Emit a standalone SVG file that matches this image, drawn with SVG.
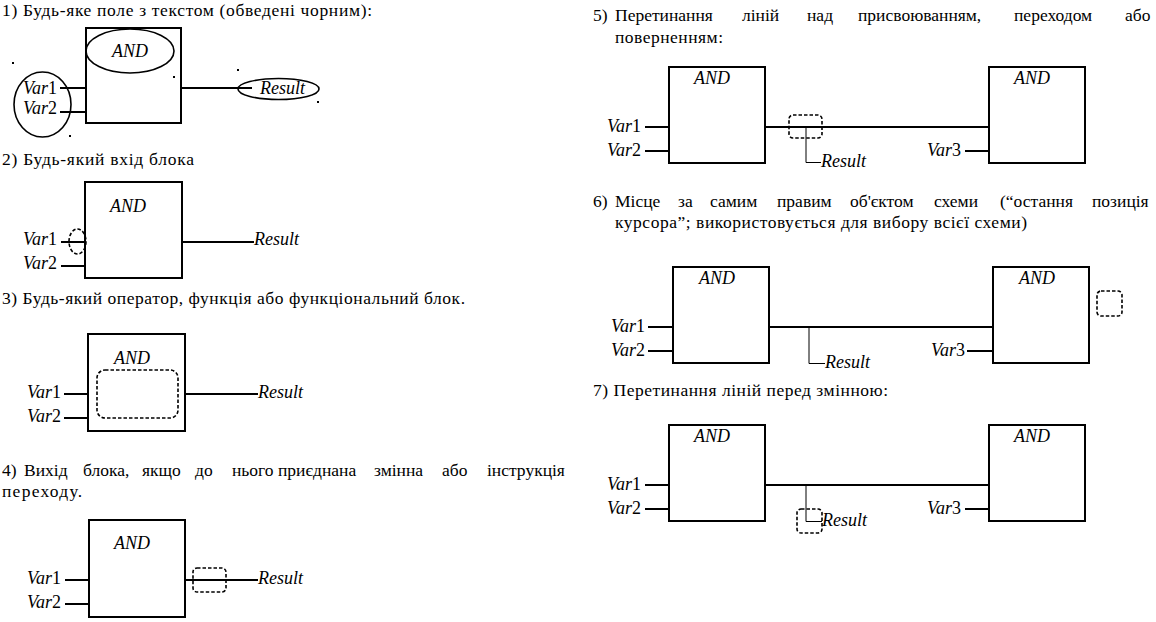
<svg xmlns="http://www.w3.org/2000/svg" width="1156" height="622" viewBox="0 0 1156 622">
<style>
.h{font-size:17.5px;fill:#000}
.l{font-size:18px;fill:#000}
.i{font-style:italic}
.n{font-style:normal}
.box{fill:none;stroke:#000;stroke-width:2}
.w{fill:none;stroke:#000;stroke-width:2}
.t{fill:none;stroke:#000;stroke-width:1}
.d{fill:none;stroke:#000;stroke-width:1.6;stroke-dasharray:3.5 2}
.e{fill:none;stroke:#000;stroke-width:1.6}
.m{text-anchor:middle}
</style>
<rect width="1156" height="622" fill="#fff"/>
<g id="headings">
<text class="h" font-family="Liberation Serif" x="2" y="16" textLength="370" lengthAdjust="spacing">1) Будь-яке поле з текстом (обведені чорним):</text>
<text class="h" font-family="Liberation Serif" x="2" y="165" textLength="192" lengthAdjust="spacing">2) Будь-який вхід блока</text>
<text class="h" font-family="Liberation Serif" x="2" y="304" textLength="463" lengthAdjust="spacing">3) Будь-який оператор, функція або функціональний блок.</text>
<text class="h" font-family="Liberation Serif" y="476"><tspan x="2">4)</tspan><tspan x="24">Вихід</tspan><tspan x="83">блока,</tspan><tspan x="142">якщо</tspan><tspan x="195">до</tspan><tspan x="232">нього</tspan><tspan x="278">приєднана</tspan><tspan x="374">змінна</tspan><tspan x="442">або</tspan><tspan x="487">інструкція</tspan></text>
<text class="h" font-family="Liberation Serif" x="2" y="497" textLength="80" lengthAdjust="spacing">переходу.</text>
<text class="h" font-family="Liberation Serif" y="21"><tspan x="593">5)</tspan><tspan x="615">Перетинання</tspan><tspan x="742">ліній</tspan><tspan x="807">над</tspan><tspan x="858">присвоюванням,</tspan><tspan x="1014">переходом</tspan><tspan x="1125">або</tspan></text>
<text class="h" font-family="Liberation Serif" x="615" y="43" textLength="108" lengthAdjust="spacing">поверненням:</text>
<text class="h" font-family="Liberation Serif" y="207"><tspan x="593">6)</tspan><tspan x="615">Місце</tspan><tspan x="678">за</tspan><tspan x="710">самим</tspan><tspan x="777">правим</tspan><tspan x="850">об'єктом</tspan><tspan x="934">схеми</tspan><tspan x="1000">(“остання</tspan><tspan x="1092">позиція</tspan></text>
<text class="h" font-family="Liberation Serif" x="615" y="228" textLength="412" lengthAdjust="spacing">курсора”; використовується для вибору всієї схеми)</text>
<text class="h" font-family="Liberation Serif" x="593" y="396" textLength="295" lengthAdjust="spacing">7) Перетинання ліній перед змінною:</text>
</g>
<g id="s1-block">
<rect class="box" x="86" y="28" width="95" height="95"/>
<ellipse class="e" cx="130" cy="51" rx="44" ry="22"/>
<text class="l i m" font-family="Liberation Serif" x="130" y="57">AND</text>
</g>
<g id="s1-inputs">
<ellipse class="e" cx="42.5" cy="104.5" rx="28.5" ry="32.5"/>
<text class="l i" font-family="Liberation Serif" x="23" y="94">Var<tspan class="n">1</tspan></text>
<text class="l i" font-family="Liberation Serif" x="23" y="114">Var<tspan class="n">2</tspan></text>
</g>
<g id="s1-result">
<ellipse class="e" cx="278.5" cy="89" rx="40.5" ry="10.5"/>
<text class="l i" font-family="Liberation Serif" x="260" y="94">Result</text>
</g>
<g id="s1-dots" fill="#000">
<rect x="12" y="62" width="2" height="2"/>
<rect x="173" y="76" width="2" height="2"/>
<rect x="237" y="69" width="2" height="2"/>
<rect x="317" y="101" width="2" height="2"/>
<rect x="69" y="135" width="2" height="2"/>
</g>
<g id="s2-block">
<rect class="box" x="85" y="182" width="97" height="96"/>
<text class="l i m" font-family="Liberation Serif" x="128" y="212">AND</text>
</g>
<g id="s2-labels">
<text class="l i" font-family="Liberation Serif" x="23" y="245">Var<tspan class="n">1</tspan></text>
<text class="l i" font-family="Liberation Serif" x="23" y="269">Var<tspan class="n">2</tspan></text>
<text class="l i" font-family="Liberation Serif" x="254" y="245">Result</text>
<ellipse class="d" cx="77.5" cy="241.5" rx="8.5" ry="12.5"/>
</g>
<g id="s3-block">
<rect class="box" x="88" y="334" width="97" height="97"/>
<text class="l i m" font-family="Liberation Serif" x="132" y="364">AND</text>
<rect class="d" x="97" y="370" width="81" height="48" rx="8"/>
</g>
<g id="s3-labels">
<text class="l i" font-family="Liberation Serif" x="27" y="398">Var<tspan class="n">1</tspan></text>
<text class="l i" font-family="Liberation Serif" x="27" y="422">Var<tspan class="n">2</tspan></text>
<text class="l i" font-family="Liberation Serif" x="258" y="398">Result</text>
</g>
<g id="s4-block">
<rect class="box" x="89" y="520" width="96" height="97"/>
<text class="l i m" font-family="Liberation Serif" x="132" y="549">AND</text>
</g>
<g id="s4-labels">
<text class="l i" font-family="Liberation Serif" x="27" y="584">Var<tspan class="n">1</tspan></text>
<text class="l i" font-family="Liberation Serif" x="27" y="608">Var<tspan class="n">2</tspan></text>
<text class="l i" font-family="Liberation Serif" x="258" y="584">Result</text>
<rect class="d" x="193" y="568" width="33" height="24" rx="4"/>
</g>
<g id="s5-block1">
<rect class="box" x="669" y="67" width="96" height="96"/>
<text class="l i m" font-family="Liberation Serif" x="712" y="84">AND</text>
</g>
<g id="s5-block2">
<rect class="box" x="989" y="67" width="96" height="96"/>
<text class="l i m" font-family="Liberation Serif" x="1032" y="84">AND</text>
</g>
<g id="s5-labels">
<text class="l i" font-family="Liberation Serif" x="607" y="132">Var<tspan class="n">1</tspan></text>
<text class="l i" font-family="Liberation Serif" x="607" y="156">Var<tspan class="n">2</tspan></text>
<text class="l i" font-family="Liberation Serif" x="927" y="156">Var<tspan class="n">3</tspan></text>
<text class="l i" font-family="Liberation Serif" x="821" y="167">Result</text>
<rect class="d" x="789" y="115" width="33" height="23" rx="4"/>
</g>
<g id="s6-block1">
<rect class="box" x="673" y="267" width="96" height="96"/>
<text class="l i m" font-family="Liberation Serif" x="717" y="284">AND</text>
</g>
<g id="s6-block2">
<rect class="box" x="993" y="267" width="96" height="96"/>
<text class="l i m" font-family="Liberation Serif" x="1037" y="284">AND</text>
</g>
<g id="s6-labels">
<text class="l i" font-family="Liberation Serif" x="611" y="332">Var<tspan class="n">1</tspan></text>
<text class="l i" font-family="Liberation Serif" x="611" y="356">Var<tspan class="n">2</tspan></text>
<text class="l i" font-family="Liberation Serif" x="931" y="356">Var<tspan class="n">3</tspan></text>
<text class="l i" font-family="Liberation Serif" x="825" y="368">Result</text>
<rect class="d" x="1097" y="291" width="25" height="25" rx="4"/>
</g>
<g id="s7-block1">
<rect class="box" x="669" y="425" width="96" height="96"/>
<text class="l i m" font-family="Liberation Serif" x="712" y="442">AND</text>
</g>
<g id="s7-block2">
<rect class="box" x="989" y="425" width="96" height="96"/>
<text class="l i m" font-family="Liberation Serif" x="1032" y="442">AND</text>
</g>
<g id="s7-labels">
<text class="l i" font-family="Liberation Serif" x="607" y="490">Var<tspan class="n">1</tspan></text>
<text class="l i" font-family="Liberation Serif" x="607" y="514">Var<tspan class="n">2</tspan></text>
<text class="l i" font-family="Liberation Serif" x="927" y="514">Var<tspan class="n">3</tspan></text>
<text class="l i" font-family="Liberation Serif" x="822" y="526">Result</text>
<rect class="d" x="797" y="509" width="25" height="24" rx="4"/>
</g>
<g id="connectors">
<path class="w" d="M60 88H86M60 112H86M181 88H252"/>
<path class="w" d="M61 242H85M61 266H85M182 242H254"/>
<path class="w" d="M64 394H88M64 418H88M185 394H258"/>
<path class="w" d="M65 580H89M65 604H89M185 580H258"/>
<path class="w" d="M645 127H669M645 151H669M765 127H989M965 151H989"/>
<path class="t" d="M806 127V162.5H821"/>
<path class="w" d="M648 327H673M648 351H673M769 327H993M967 351H993"/>
<path class="t" d="M809 327V363.5H825"/>
<path class="w" d="M645 485H669M645 509H669M765 485H989M965 509H989"/>
<path class="t" d="M806 485V521.5H822"/>
</g>
</svg>
